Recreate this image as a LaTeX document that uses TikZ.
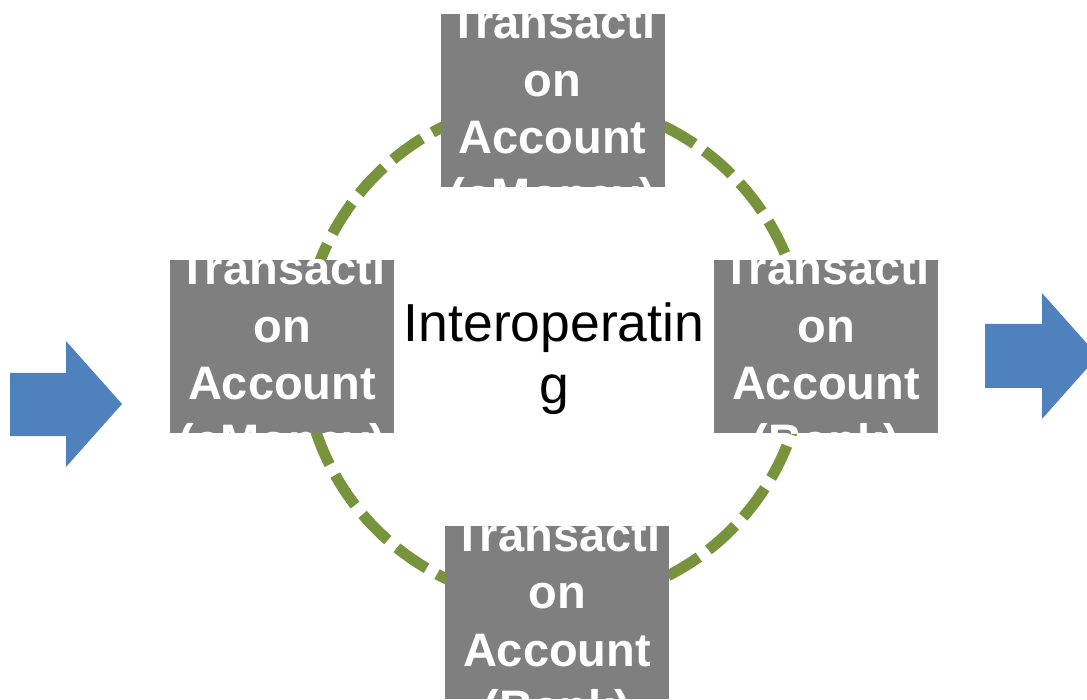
\documentclass[tikz,border=0pt]{standalone}
\usepackage{fontspec}
\setmainfont{Liberation Sans}
\definecolor{boxgray}{HTML}{7F7F7F}
\definecolor{ringgreen}{HTML}{77933C}
\definecolor{arrowblue}{HTML}{4F81BD}
\tikzset{
  gbox/.style={fill=boxgray, draw=none, minimum width=224pt, minimum height=173pt, inner sep=0pt, outer sep=0pt},
  btext/.style={text=white, inner sep=0pt, anchor=base, font=\bfseries\fontsize{47pt}{57.5pt}\selectfont},
  ctext/.style={text=black, inner sep=0pt, anchor=base, font=\fontsize{53.5pt}{62pt}\selectfont},
  ring/.style={draw=ringgreen, line width=11pt, dash pattern=on 36pt off 12pt},
  bigarrow/.style={fill=arrowblue, draw=none}
}
\newcommand{\boxlines}[1]{\parbox[t]{300pt}{\centering Transacti\\on\\Account\\(#1)}}
\begin{document}
\begin{tikzpicture}[x=1pt, y=-1pt]
\useasboundingbox (0,0) rectangle (1087,700);
% ring
\coordinate (ringc) at (554,352);
\draw[ring] (ringc) circle[radius=251];
% boxes
\node[gbox] (top) at (552.5,100.5) {};
\node[gbox] (left) at (282,346.5) {};
\node[gbox] (right) at (826,346.5) {};
\node[gbox] (bottom) at (557,612.5) {};
\foreach \b/\lab in {top/eMoney, left/eMoney, right/Bank, bottom/Bank}{
  \begin{scope}
    \clip (\b.south west) rectangle (\b.north east);
    \node[btext] (\b-text) at ([yshift=-25pt]\b.north) {\boxlines{\lab}};
  \end{scope}
}
% centre label
\node[ctext] (centre) at (554,342) {\parbox[t]{330pt}{\centering Interoperatin\\g}};
% arrows
\fill[bigarrow] (10,373) -- (66,373) -- (66,341) -- (122,404) -- (66,467) -- (66,436) -- (10,436) -- cycle;
\fill[bigarrow] (985,324) -- (1042,324) -- (1042,293) -- (1098,356) -- (1042,419) -- (1042,388) -- (985,388) -- cycle;
\end{tikzpicture}
\end{document}
